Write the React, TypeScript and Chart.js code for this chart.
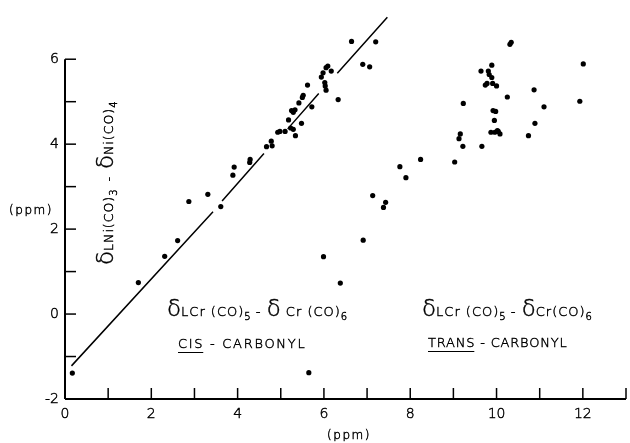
import React, { useEffect, useRef } from "react";
import { Chart, registerables } from "chart.js";

Chart.register(...registerables);

// Cis-carbonyl points (near the regression line)
const cisX = [0.17, 1.70, 2.31, 2.61, 2.87, 3.31, 3.61, 3.89, 3.92, 4.28, 4.29, 4.67, 4.78, 4.80, 4.93, 4.98, 5.10, 5.18, 5.23, 5.29, 5.34, 5.48, 5.25, 5.29, 5.33, 5.42, 5.50, 5.52, 5.62, 5.72, 5.94, 5.98, 6.05, 6.09, 6.17, 6.02, 6.03, 6.05, 6.33, 6.64, 7.20, 6.90, 7.06];
const cisY = [-1.39, 0.74, 1.36, 1.73, 2.65, 2.82, 2.53, 3.27, 3.46, 3.57, 3.64, 3.94, 4.07, 3.96, 4.28, 4.30, 4.30, 4.57, 4.38, 4.35, 4.20, 4.49, 4.79, 4.75, 4.81, 4.97, 5.10, 5.15, 5.39, 4.88, 5.58, 5.68, 5.80, 5.84, 5.72, 5.45, 5.37, 5.27, 5.05, 6.42, 6.41, 5.88, 5.82];

// Trans-carbonyl points
const transX = [5.65, 6.38, 5.99, 6.91, 7.13, 7.38, 7.43, 7.76, 7.90, 8.24, 9.03, 9.13, 9.16, 9.22, 9.23, 9.66, 9.64, 9.89, 9.81, 9.83, 9.89, 9.74, 9.78, 9.91, 10.00, 10.25, 10.31, 10.34, 9.92, 9.98, 9.95, 9.87, 9.96, 10.02, 10.08, 10.04, 10.87, 11.10, 10.89, 10.74, 12.01, 11.93];
const transY = [-1.38, 0.73, 1.35, 1.74, 2.79, 2.51, 2.63, 3.47, 3.21, 3.64, 3.58, 4.13, 4.24, 3.95, 4.96, 3.95, 5.72, 5.86, 5.72, 5.64, 5.57, 5.39, 5.43, 5.43, 5.37, 5.11, 6.35, 6.40, 4.79, 4.77, 4.56, 4.28, 4.28, 4.32, 4.24, 4.30, 5.28, 4.88, 4.49, 4.20, 5.89, 5.01];

// Regression line (drawn in broken segments; null = gap)
const lineX = [0.15, 3.43, null, 3.64, 4.61, null, 5.16, 5.88, null, 6.31, 7.47];
const lineY = [-1.22, 2.41, null, 2.66, 3.78, null, 4.36, 5.19, null, 5.67, 6.99];

const xTicks = [0, 1, 2, 3, 4, 5, 6, 7, 8, 9, 10, 11, 12, 13];
const xTickLabels = ["0", "", "2", "", "4", "", "6", "", "8", "", "10", "", "12", ""];
const yTicks = [-2, -1, 0, 1, 2, 3, 4, 5, 6];
const yTickLabels = ["-2", "", "0", "", "2", "", "4", "", "6"];

const FONT = "'DejaVu Sans', sans-serif";
const W = "200";

type Part = { t: string; size: number; dy?: number; ls?: number };

function thinText(ctx: CanvasRenderingContext2D, t: string, x: number, y: number) {
  ctx.fillText(t, x, y);
  ctx.lineWidth = 0.45;
  ctx.strokeText(t, x, y);
}

function drawRich(ctx: CanvasRenderingContext2D, x: number, y: number, parts: Part[]) {
  let cx = x;
  for (const p of parts) {
    ctx.font = `${W} ${p.size}px ${FONT}`;
    (ctx as any).letterSpacing = `${p.ls || 0}px`;
    thinText(ctx, p.t, cx, y + (p.dy || 0));
    cx += ctx.measureText(p.t).width;
  }
  (ctx as any).letterSpacing = "0px";
}

const axesPlugin = {
  id: "customAxes",
  afterDraw(chart: any) {
    const ctx: CanvasRenderingContext2D = chart.ctx;
    const xs = chart.scales.x;
    const ys = chart.scales.y;
    ctx.save();
    ctx.strokeStyle = "#000";
    ctx.fillStyle = "#000";
    ctx.lineWidth = 2;
    const x0 = xs.getPixelForValue(0);
    const yBottom = ys.getPixelForValue(-2);
    // y axis line
    ctx.beginPath();
    ctx.moveTo(x0, ys.getPixelForValue(6));
    ctx.lineTo(x0, yBottom);
    ctx.stroke();
    // x axis line
    ctx.beginPath();
    ctx.moveTo(x0, yBottom);
    ctx.lineTo(xs.getPixelForValue(13), yBottom);
    ctx.stroke();
    // y ticks (inward)
    yTicks.forEach((v, i) => {
      const py = ys.getPixelForValue(v);
      ctx.lineWidth = 1.5;
      ctx.beginPath();
      ctx.moveTo(x0, py);
      ctx.lineTo(x0 + 11, py);
      ctx.stroke();
      if (yTickLabels[i]) {
        ctx.font = `300 14px ${FONT}`;
        ctx.textAlign = "right";
        ctx.textBaseline = "middle";
        thinText(ctx, yTickLabels[i], x0 - 6, py);
      }
    });
    // x ticks (inward)
    xTicks.forEach((v, i) => {
      const px = xs.getPixelForValue(v);
      if (v > 0) {
        ctx.lineWidth = 1.5;
        ctx.beginPath();
        ctx.moveTo(px, yBottom);
        ctx.lineTo(px, yBottom - 11);
        ctx.stroke();
      }
      if (xTickLabels[i]) {
        ctx.font = `300 14px ${FONT}`;
        ctx.textAlign = "center";
        ctx.textBaseline = "middle";
        thinText(ctx, xTickLabels[i], px, yBottom + 15);
      }
    });
    // axis unit labels
    ctx.font = `300 12px ${FONT}`;
    (ctx as any).letterSpacing = "1.5px";
    ctx.textAlign = "center";
    ctx.textBaseline = "middle";
    thinText(ctx, "(ppm)", 349, 436);
    thinText(ctx, "(ppm)", 31, 211);
    (ctx as any).letterSpacing = "0px";

    ctx.textAlign = "left";
    ctx.textBaseline = "alphabetic";
    // cis annotation
    drawRich(ctx, 167, 316, [
      { t: "δ", size: 23 },
      { t: "LCr (CO)", size: 13, ls: 1 },
      { t: "5", size: 10, dy: 4 },
      { t: " - ", size: 13, ls: 1 },
      { t: "δ", size: 23 },
      { t: " Cr (CO)", size: 13, ls: 1 },
      { t: "6", size: 10, dy: 4 },
    ]);
    ctx.font = `${W} 13px ${FONT}`;
    (ctx as any).letterSpacing = "1.7px";
    thinText(ctx, "CIS - CARBONYL", 178, 348);
    const wCis = ctx.measureText("CIS").width;
    (ctx as any).letterSpacing = "0px";
    ctx.lineWidth = 1;
    ctx.beginPath();
    ctx.moveTo(178, 352.5);
    ctx.lineTo(178 + wCis - 1, 352.5);
    ctx.stroke();

    // trans annotation
    drawRich(ctx, 422, 316, [
      { t: "δ", size: 23 },
      { t: "LCr (CO)", size: 13, ls: 1 },
      { t: "5", size: 10, dy: 4 },
      { t: " - ", size: 13, ls: 1 },
      { t: "δ", size: 23 },
      { t: "Cr(CO)", size: 13, ls: 1 },
      { t: "6", size: 10, dy: 4 },
    ]);
    ctx.font = `${W} 13px ${FONT}`;
    (ctx as any).letterSpacing = "0.8px";
    thinText(ctx, "TRANS - CARBONYL", 428, 347);
    const wTr = ctx.measureText("TRANS").width;
    (ctx as any).letterSpacing = "0px";
    ctx.lineWidth = 1;
    ctx.beginPath();
    ctx.moveTo(428, 351.5);
    ctx.lineTo(428 + wTr - 1, 351.5);
    ctx.stroke();

    // rotated y label
    ctx.save();
    ctx.translate(113, 265);
    ctx.rotate(-Math.PI / 2);
    drawRich(ctx, 0, 0, [
      { t: "δ", size: 23 },
      { t: "LNi(CO)", size: 12.5, ls: 1 },
      { t: "3", size: 10, dy: 4 },
      { t: "  -  ", size: 12.5 },
      { t: "δ", size: 23 },
      { t: "Ni(CO)", size: 12.5, ls: 1 },
      { t: "4", size: 10, dy: 4 },
    ]);
    ctx.restore();
    ctx.restore();
  },
};

export default function App() {
  const ref = useRef<HTMLCanvasElement>(null);
  useEffect(() => {
    if (!ref.current) return;
    const toPts = (xs: (number | null)[], ys: (number | null)[]) =>
      xs.map((x, i) => ({ x: x as any, y: ys[i] as any }));
    const chart = new Chart(ref.current, {
      type: "scatter",
      data: {
        datasets: [
          {
            label: "fit",
            data: toPts(lineX, lineY),
            showLine: true,
            spanGaps: false,
            borderColor: "#000",
            borderWidth: 1.5,
            pointRadius: 0,
            fill: false,
          },
          {
            label: "cis",
            data: toPts(cisX, cisY),
            backgroundColor: "#000",
            borderColor: "#000",
            pointRadius: 2.6,
            pointBorderWidth: 0,
          },
          {
            label: "trans",
            data: toPts(transX, transY),
            backgroundColor: "#000",
            borderColor: "#000",
            pointRadius: 2.6,
            pointBorderWidth: 0,
          },
        ],
      },
      options: {
        responsive: false,
        animation: false,
        layout: { padding: { left: 65, right: 0, top: 2, bottom: 44 } },
        plugins: { legend: { display: false }, tooltip: { enabled: false } },
        scales: {
          x: { type: "linear", min: 0, max: 13, display: false },
          y: { type: "linear", min: -2, max: 7.3, display: false },
        },
      },
      plugins: [axesPlugin],
    });
    return () => chart.destroy();
  }, []);
  return (
    <canvas
      ref={ref}
      width={630}
      height={443}
      style={{ position: "absolute", left: 0, top: 0, background: "#fff" }}
    />
  );
}
